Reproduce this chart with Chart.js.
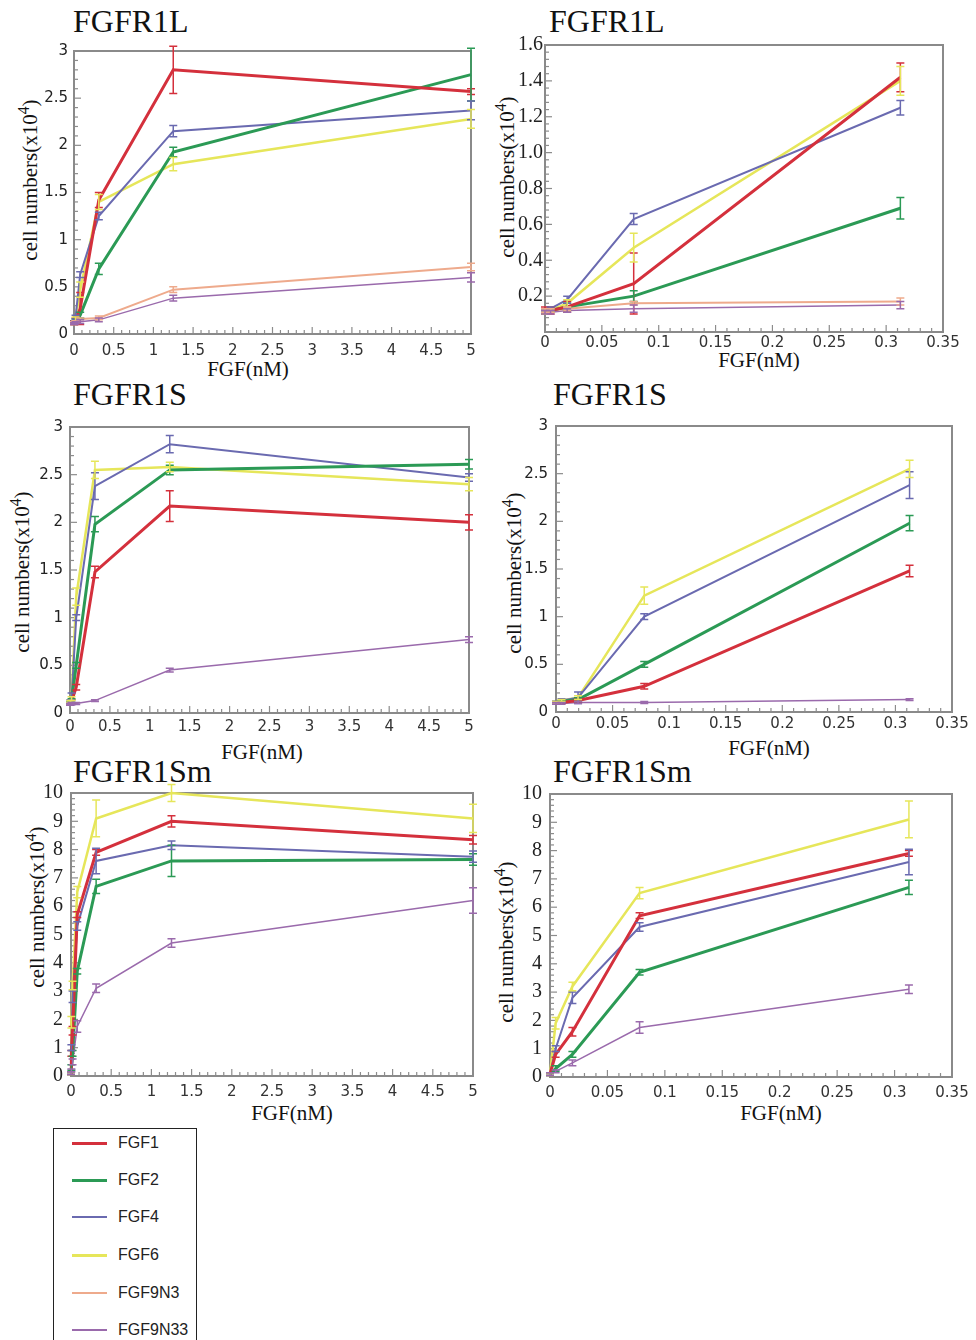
<!DOCTYPE html>
<html>
<head>
<meta charset="utf-8">
<script src="https://cdn.jsdelivr.net/npm/chart.js@4.4.1/dist/chart.umd.min.js"></script>
<style>
body { margin: 0; background: #fff; width: 976px; height: 1340px; position: relative; overflow: hidden; }
canvas { position: absolute; }
.ptitle { position: absolute; font-family: "Liberation Serif", serif; font-size: 32px; line-height: 1; color: #111; white-space: nowrap; }
.xtitle, .ytitle { position: absolute; font-family: "Liberation Serif", serif; font-size: 21px; line-height: 1; color: #111; white-space: nowrap; }
.xtitle { transform: translate(-50%, -50%); }
.ytitle { transform: translate(-50%, -50%) rotate(-90deg); }
.ytitle sup { font-size: 0.75em; vertical-align: 0.5em; line-height: 0; }
#legend { position: absolute; left: 53px; top: 1128px; width: 144px; height: 240px; border: 1.5px solid #222; box-sizing: border-box; }
.lg-line { position: absolute; left: 72px; width: 35px; }
.lg-text { position: absolute; left: 118px; font-family: "Liberation Sans", sans-serif; font-size: 16px; line-height: 1; color: #222; transform: translateY(-50%); }
</style>
</head>
<body>

<div class="ptitle" style="left:73px;top:5px">FGFR1L</div>
<div class="ptitle" style="left:549px;top:5px">FGFR1L</div>
<div class="ptitle" style="left:73px;top:378px">FGFR1S</div>
<div class="ptitle" style="left:553px;top:378px">FGFR1S</div>
<div class="ptitle" style="left:73px;top:755px">FGFR1Sm</div>
<div class="ptitle" style="left:553px;top:755px">FGFR1Sm</div>

<div class="xtitle" style="left:248px;top:369px">FGF(nM)</div>
<div class="xtitle" style="left:759px;top:360px">FGF(nM)</div>
<div class="xtitle" style="left:262px;top:752px">FGF(nM)</div>
<div class="xtitle" style="left:769px;top:748px">FGF(nM)</div>
<div class="xtitle" style="left:292px;top:1113px">FGF(nM)</div>
<div class="xtitle" style="left:781px;top:1113px">FGF(nM)</div>

<div class="ytitle" style="left:30px;top:180px">cell numbers(x10<sup>4</sup>)</div>
<div class="ytitle" style="left:507px;top:177px">cell numbers(x10<sup>4</sup>)</div>
<div class="ytitle" style="left:22px;top:572px">cell numbers(x10<sup>4</sup>)</div>
<div class="ytitle" style="left:514px;top:573px">cell numbers(x10<sup>4</sup>)</div>
<div class="ytitle" style="left:37px;top:907px">cell numbers(x10<sup>4</sup>)</div>
<div class="ytitle" style="left:506px;top:942px">cell numbers(x10<sup>4</sup>)</div>

<div id="legend"></div>

<script>
// FGF concentrations (nM), 4-fold dilutions
const conc = [0, 0.0049, 0.0195, 0.078, 0.3125, 1.25, 5];
const seriesNames = ['FGF1', 'FGF2', 'FGF4', 'FGF6', 'FGF9N3', 'FGF9N33'];

// FGFR1L cell numbers (x10^4) and error bars
const r1L_fgf1 = [0.12, 0.12, 0.14, 0.27, 1.42, 2.80, 2.57];
const r1L_fgf2 = [0.12, 0.12, 0.14, 0.20, 0.69, 1.93, 2.75];
const r1L_fgf4 = [0.12, 0.13, 0.18, 0.63, 1.25, 2.15, 2.37];
const r1L_fgf6 = [0.11, 0.12, 0.16, 0.47, 1.40, 1.80, 2.28];
const r1L_fgf9n3 = [0.12, 0.12, 0.13, 0.16, 0.17, 0.47, 0.71];
const r1L_fgf9n33 = [0.11, 0.11, 0.12, 0.13, 0.15, 0.38, 0.60];
const r1L_fgf1_err = [0.02, 0.02, 0.03, 0.17, 0.08, 0.25, 0.03];
const r1L_fgf2_err = [0.01, 0.01, 0.02, 0.03, 0.06, 0.05, 0.28];
const r1L_fgf4_err = [0.01, 0.01, 0.02, 0.03, 0.04, 0.06, 0.10];
const r1L_fgf6_err = [0.01, 0.01, 0.02, 0.08, 0.08, 0.07, 0.10];
const r1L_fgf9n3_err = [0.01, 0.01, 0.01, 0.01, 0.02, 0.03, 0.04];
const r1L_fgf9n33_err = [0.01, 0.01, 0.01, 0.02, 0.02, 0.03, 0.05];

// FGFR1S (no FGF9N3 curve)
const r1S_fgf1 = [0.10, 0.10, 0.12, 0.27, 1.48, 2.17, 2.00];
const r1S_fgf2 = [0.10, 0.11, 0.13, 0.50, 1.98, 2.55, 2.61];
const r1S_fgf4 = [0.10, 0.12, 0.15, 1.00, 2.38, 2.82, 2.47];
const r1S_fgf6 = [0.10, 0.12, 0.15, 1.22, 2.55, 2.58, 2.40];
const r1S_fgf9n33 = [0.09, 0.09, 0.10, 0.10, 0.13, 0.45, 0.77];
const r1S_fgf1_err = [0.01, 0.01, 0.02, 0.03, 0.06, 0.16, 0.08];
const r1S_fgf2_err = [0.01, 0.01, 0.02, 0.03, 0.08, 0.05, 0.05];
const r1S_fgf4_err = [0.01, 0.02, 0.06, 0.03, 0.14, 0.09, 0.04];
const r1S_fgf6_err = [0.01, 0.01, 0.02, 0.09, 0.09, 0.05, 0.07];
const r1S_fgf9n33_err = [0.01, 0.01, 0.01, 0.01, 0.01, 0.02, 0.03];

// FGFR1Sm (no FGF9N3 curve)
const r1Sm_fgf1 = [0.1, 0.8, 1.6, 5.7, 7.9, 9.0, 8.35];
const r1Sm_fgf2 = [0.1, 0.3, 0.8, 3.7, 6.7, 7.6, 7.65];
const r1Sm_fgf4 = [0.1, 1.0, 2.8, 5.3, 7.6, 8.15, 7.75];
const r1Sm_fgf6 = [0.1, 1.9, 3.2, 6.5, 9.1, 10.0, 9.1];
const r1Sm_fgf9n33 = [0.1, 0.2, 0.5, 1.75, 3.1, 4.7, 6.2];
const r1Sm_fgf1_err = [0.05, 0.1, 0.15, 0.1, 0.1, 0.2, 0.15];
const r1Sm_fgf2_err = [0.05, 0.1, 0.1, 0.1, 0.25, 0.55, 0.2];
const r1Sm_fgf4_err = [0.05, 0.1, 0.2, 0.15, 0.45, 0.15, 0.2];
const r1Sm_fgf6_err = [0.05, 0.2, 0.15, 0.2, 0.65, 0.3, 0.5];
const r1Sm_fgf9n33_err = [0.05, 0.05, 0.1, 0.2, 0.15, 0.15, 0.45];

// styles
const lineColors = ['#d4303c', '#2b9a55', '#6a6ab0', '#e6e65a', '#eeaa8c', '#9a6aac'];
const lineWidths = [3, 3, 2, 2.5, 2, 1.5];

const r1L_vals = [r1L_fgf1, r1L_fgf2, r1L_fgf4, r1L_fgf6, r1L_fgf9n3, r1L_fgf9n33];
const r1L_errs = [r1L_fgf1_err, r1L_fgf2_err, r1L_fgf4_err, r1L_fgf6_err, r1L_fgf9n3_err, r1L_fgf9n33_err];
const r1S_vals = [r1S_fgf1, r1S_fgf2, r1S_fgf4, r1S_fgf6, null, r1S_fgf9n33];
const r1S_errs = [r1S_fgf1_err, r1S_fgf2_err, r1S_fgf4_err, r1S_fgf6_err, null, r1S_fgf9n33_err];
const r1Sm_vals = [r1Sm_fgf1, r1Sm_fgf2, r1Sm_fgf4, r1Sm_fgf6, null, r1Sm_fgf9n33];
const r1Sm_errs = [r1Sm_fgf1_err, r1Sm_fgf2_err, r1Sm_fgf4_err, r1Sm_fgf6_err, null, r1Sm_fgf9n33_err];

const sansTicks = { family: 'DejaVu Sans', size: 15 };
const serifTicks = { family: 'Liberation Serif', size: 20 };

// area = [left, top, right, bottom] of the plot frame on the page
const panels = [
    { area: [74, 51, 471, 334], vals: r1L_vals, errs: r1L_errs, n: 7, xMax: 5, xMinor: 0.1, xMajor: 0.5, xPad: 8,
      yMax: 3, yMinor: 0.1, yMajor: 0.5, yFont: sansTicks, yPad: 6 },
    { area: [545, 45, 943, 332], vals: r1L_vals, errs: r1L_errs, n: 5, xMax: 0.35, xMinor: 0.01, xMajor: 0.05, xPad: 2,
      yMax: 1.6, yMinor: 0.04, yMajor: 0.2, yFont: serifTicks, yPad: 2, yFixed: true },
    { area: [70, 427, 469, 713], vals: r1S_vals, errs: r1S_errs, n: 7, xMax: 5, xMinor: 0.1, xMajor: 0.5, xPad: 5,
      yMax: 3, yMinor: 0.1, yMajor: 0.5, yFont: sansTicks, yPad: 7 },
    { area: [556, 425, 952, 712], vals: r1S_vals, errs: r1S_errs, n: 5, xMax: 0.35, xMinor: 0.01, xMajor: 0.05, xPad: 3,
      yMax: 3, yMinor: 0.1, yMajor: 0.5, yFont: sansTicks, yPad: 8 },
    { area: [71, 789, 473, 1076], vals: r1Sm_vals, errs: r1Sm_errs, n: 7, xMax: 5, xMinor: 0.1, xMajor: 0.5, xPad: 7,
      yMax: 10, yMinor: 0.2, yMajor: 1, yFont: serifTicks, yPad: 8 },
    { area: [550, 790, 952, 1077], vals: r1Sm_vals, errs: r1Sm_errs, n: 5, xMax: 0.35, xMinor: 0.01, xMajor: 0.05, xPad: 7,
      yMax: 10, yMinor: 0.2, yMajor: 1, yFont: serifTicks, yPad: 8 }
];

const YW = 70, XH = 34, PT = 16, PR = 24;

function isMajor(v, step) {
    const r = v / step;
    return Math.abs(r - Math.round(r)) < 1e-6;
}

function fmt(v) {
    return String(Math.round(v * 1000) / 1000);
}

function buildDatasets(p) {
    const out = [];
    p.vals.forEach((vals, i) => {
        if (!vals) return;
        out.push({
            label: seriesNames[i],
            data: conc.slice(0, p.n).map((c, j) => ({ x: c, y: vals[j] })),
            err: p.errs[i].slice(0, p.n),
            borderColor: lineColors[i],
            backgroundColor: lineColors[i],
            borderWidth: lineWidths[i],
            pointRadius: 0,
            tension: 0,
            fill: false,
            clip: 6
        });
    });
    return out;
}

function framePlugin(p) {
    return {
        id: 'frameAndBars',
        beforeDatasetsDraw(chart) {
            const { ctx, chartArea: a, scales: { x, y } } = chart;
            ctx.save();
            ctx.strokeStyle = '#8c8c8c';
            ctx.lineWidth = 1.2;
            x.ticks.forEach(t => {
                const px = x.getPixelForValue(t.value);
                const len = isMajor(t.value, p.xMajor) ? 7 : 4;
                ctx.beginPath();
                ctx.moveTo(px, a.bottom);
                ctx.lineTo(px, a.bottom - len);
                ctx.stroke();
            });
            y.ticks.forEach(t => {
                const py = y.getPixelForValue(t.value);
                const len = isMajor(t.value, p.yMajor) ? 7 : 4;
                ctx.beginPath();
                ctx.moveTo(a.left, py);
                ctx.lineTo(a.left + len, py);
                ctx.stroke();
            });
            ctx.lineWidth = 2;
            ctx.strokeStyle = '#8a8a8a';
            ctx.strokeRect(a.left, a.top, a.right - a.left, a.bottom - a.top);
            ctx.restore();
        },
        afterDatasetsDraw(chart) {
            const { ctx, scales: { x, y } } = chart;
            ctx.save();
            chart.data.datasets.forEach(ds => {
                ctx.strokeStyle = ds.borderColor;
                ctx.lineWidth = 1.5;
                ds.data.forEach((pt, j) => {
                    const e = ds.err[j];
                    if (!e) return;
                    const px = x.getPixelForValue(pt.x);
                    const yHi = y.getPixelForValue(pt.y + e);
                    const yLo = y.getPixelForValue(pt.y - e);
                    ctx.beginPath();
                    ctx.moveTo(px, yHi); ctx.lineTo(px, yLo);
                    ctx.moveTo(px - 4, yHi); ctx.lineTo(px + 4, yHi);
                    ctx.moveTo(px - 4, yLo); ctx.lineTo(px + 4, yLo);
                    ctx.stroke();
                });
            });
            ctx.restore();
        }
    };
}

panels.forEach(p => {
    const [L, T, R, B] = p.area;
    const canvas = document.createElement('canvas');
    canvas.width = (R - L) + YW + PR;
    canvas.height = (B - T) + PT + XH;
    canvas.style.left = (L - YW) + 'px';
    canvas.style.top = (T - PT) + 'px';
    document.body.appendChild(canvas);

    new Chart(canvas, {
        type: 'line',
        data: { datasets: buildDatasets(p) },
        options: {
            responsive: false,
            animation: false,
            devicePixelRatio: 1,
            layout: { padding: { left: 0, top: PT, right: PR, bottom: 0 } },
            plugins: { legend: { display: false }, tooltip: { enabled: false } },
            scales: {
                x: {
                    type: 'linear', min: 0, max: p.xMax,
                    grid: { display: false, drawTicks: false },
                    border: { display: false },
                    ticks: {
                        stepSize: p.xMinor, autoSkip: false, maxRotation: 0, minRotation: 0,
                        padding: p.xPad, color: '#333', font: sansTicks,
                        callback: v => isMajor(v, p.xMajor) ? fmt(v) : ''
                    },
                    afterFit: s => { s.height = XH; }
                },
                y: {
                    type: 'linear', min: 0, max: p.yMax,
                    grid: { display: false, drawTicks: false },
                    border: { display: false },
                    ticks: {
                        stepSize: p.yMinor, autoSkip: false, padding: p.yPad, color: '#222', font: p.yFont,
                        callback: v => {
                            if (!isMajor(v, p.yMajor)) return '';
                            if (p.yFixed) return v === 0 ? '' : v.toFixed(1);
                            return fmt(v);
                        }
                    },
                    afterFit: s => { s.width = YW; }
                }
            }
        },
        plugins: [framePlugin(p)]
    });
});

// legend
const legendRows = [1143, 1180, 1217, 1255, 1293, 1330];
const legendWidths = [3, 3, 2, 3, 2, 2];
seriesNames.forEach((name, i) => {
    const line = document.createElement('div');
    line.className = 'lg-line';
    line.style.top = (legendRows[i] - legendWidths[i] / 2) + 'px';
    line.style.height = legendWidths[i] + 'px';
    line.style.background = lineColors[i];
    document.body.appendChild(line);
    const txt = document.createElement('div');
    txt.className = 'lg-text';
    txt.style.top = legendRows[i] + 'px';
    txt.textContent = name;
    document.body.appendChild(txt);
});
</script>
</body>
</html>
